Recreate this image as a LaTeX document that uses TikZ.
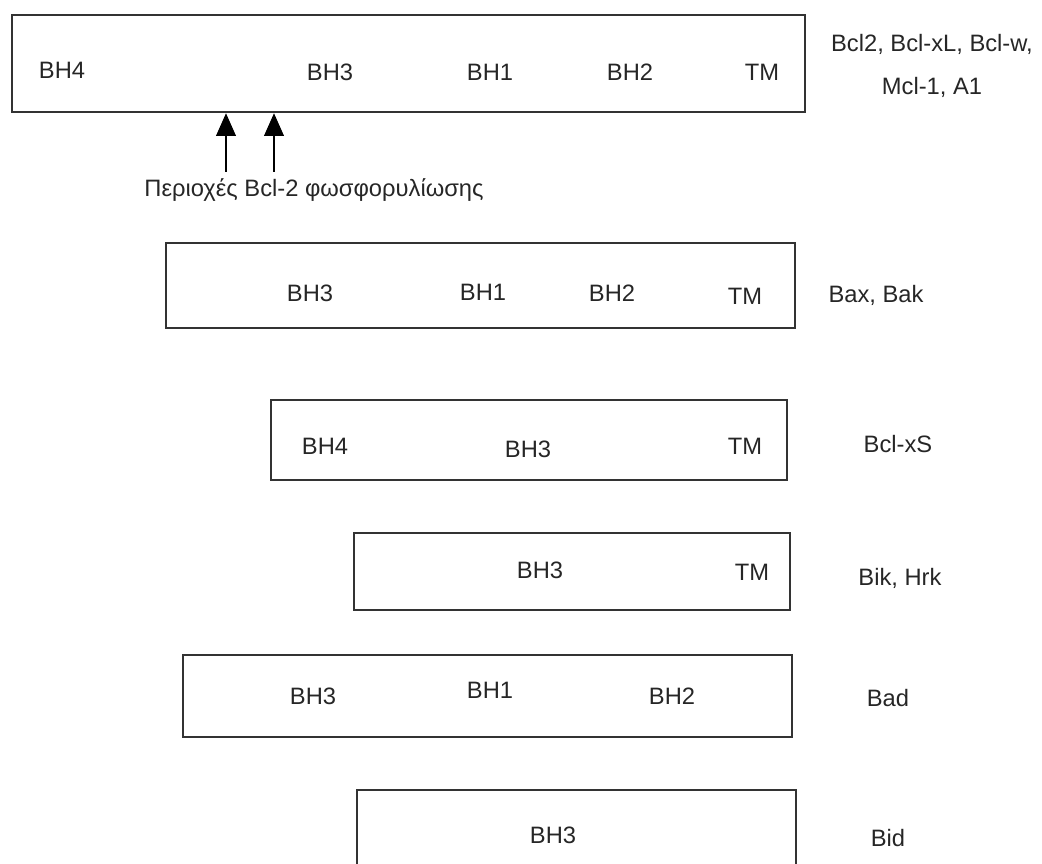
\documentclass[tikz,border=0pt]{standalone}
\usepackage{fontspec}
\setmainfont{Liberation Sans}
\usepackage{tikz}
\usetikzlibrary{positioning}
\usetikzlibrary{arrows.meta}
\definecolor{boxline}{gray}{0.2}
\tikzset{
    domainbox/.style = {rectangle, draw=boxline, line width=1.3pt, inner sep=0pt},
    motif/.style = {font=\fontsize{13.5}{16}\selectfont, text=black!85},
    family/.style = {font=\fontsize{13.5}{24}\selectfont, text=black!85, align=center},
    sitearrow/.style = {-{Triangle[length=13pt,width=11pt]}, line width=1.7pt}
}

\begin{document}
\begin{tikzpicture}[x=0.02cm, y=-0.02cm]
  \useasboundingbox (0,0) rectangle (1042,864);
  \begin{scope}
  \clip (0,0) rectangle (1042,864);

  % Bcl2 family, anti-apoptotic
  \node[domainbox, minimum width=15.86cm, minimum height=1.94cm] (bcl) at (408.5,63.5) {};
  \node[motif] (bcl4) at (62,70) {BH4};
  \node[motif] (bcl3) at (330,72) {BH3};
  \node[motif] (bcl1) at (490,72) {BH1};
  \node[motif] (bcl2) at (630,72) {BH2};
  \node[motif] (bcltm) at (762,72) {TM};
  \node[family] (bclname) at (932,66) {Bcl2, Bcl-xL, Bcl-w,\\Mcl-1, A1};

  % phosphorylation sites
  \coordinate (site1) at (226,172);
  \coordinate (site2) at (274,172);
  \draw[sitearrow] (site1) -- (site1 |- bcl.south);
  \draw[sitearrow] (site2) -- (site2 |- bcl.south);
  \node[motif] (sites) at (314,190) {Περιοχές Bcl-2 φωσφορυλίωσης};

  % Bax, Bak
  \node[domainbox, minimum width=12.58cm, minimum height=1.70cm] (bax) at (480.5,285.5) {};
  \node[motif] (bax3) at (310,293) {BH3};
  \node[motif] (bax1) at (483,292) {BH1};
  \node[motif] (bax2) at (612,293) {BH2};
  \node[motif] (baxtm) at (745,296) {TM};
  \node[family] (baxname) at (876,295) {Bax, Bak};

  % Bcl-xS
  \node[domainbox, minimum width=10.32cm, minimum height=1.60cm] (xs) at (529,440) {};
  \node[motif] (xs4) at (325,446) {BH4};
  \node[motif] (xs3) at (528,449) {BH3};
  \node[motif] (xstm) at (745,446) {TM};
  \node[family] (xsname) at (898,444) {Bcl-xS};

  % Bik, Hrk
  \node[domainbox, minimum width=8.72cm, minimum height=1.54cm] (bik) at (572,571.5) {};
  \node[motif] (bik3) at (540,570) {BH3};
  \node[motif] (biktm) at (752,572) {TM};
  \node[family] (bikname) at (900,578) {Bik, Hrk};

  % Bad
  \node[domainbox, minimum width=12.18cm, minimum height=1.64cm] (bad) at (487.5,696) {};
  \node[motif] (bad3) at (313,696) {BH3};
  \node[motif] (bad1) at (490,690) {BH1};
  \node[motif] (bad2) at (672,696) {BH2};
  \node[family] (badname) at (888,698) {Bad};

  % Bid
  \node[domainbox, minimum width=8.78cm, minimum height=1.80cm] (bid) at (576.5,835) {};
  \node[motif] (bid3) at (553,835) {BH3};
  \node[family] (bidname) at (888,838) {Bid};
  \end{scope}
\end{tikzpicture}
\end{document}
